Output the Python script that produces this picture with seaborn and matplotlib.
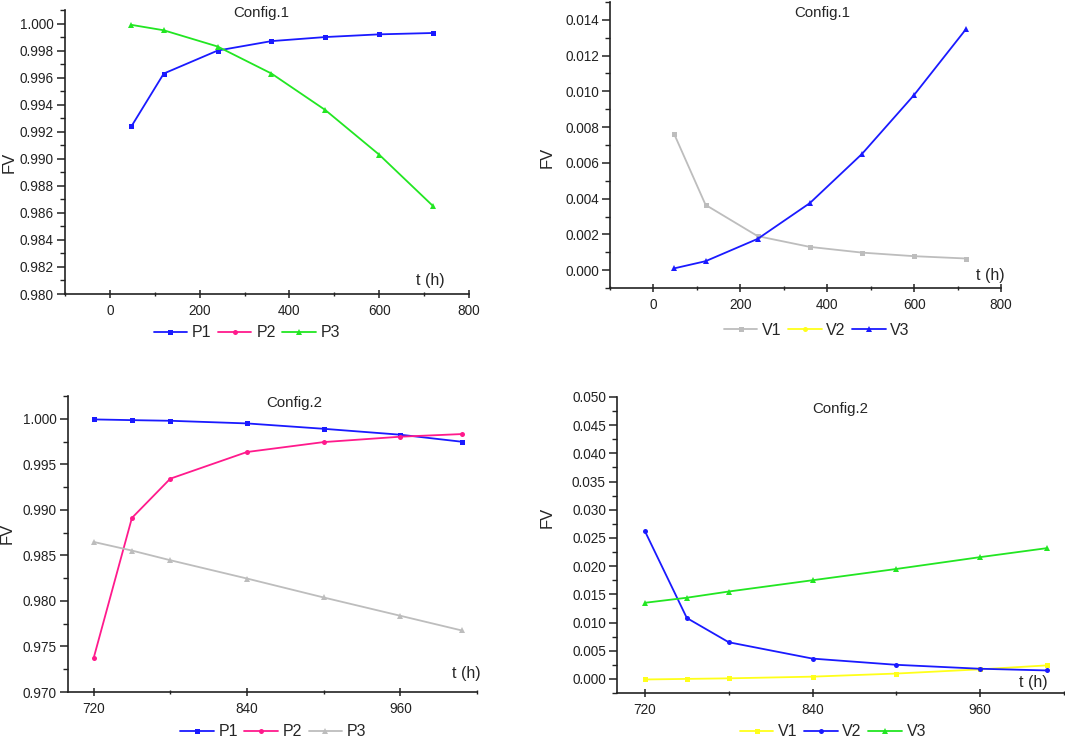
import matplotlib
matplotlib.use("Agg")
import matplotlib.pyplot as plt
import seaborn as sns
import numpy as np
import pandas as pd
from matplotlib.ticker import MultipleLocator, FormatStrFormatter
from matplotlib.lines import Line2D

# ---------------- data ----------------
t1 = [48, 120, 240, 360, 480, 600, 720]
c1_P1 = [0.9924, 0.9963, 0.9980, 0.9987, 0.9990, 0.9992, 0.9993]
c1_P3 = [0.9999, 0.9995, 0.9983, 0.9963, 0.9936, 0.9903, 0.9865]
c1_V1 = [0.0076, 0.00365, 0.0019, 0.0013, 0.00098, 0.00078, 0.00065]
c1_V3 = [0.0001, 0.0005, 0.00175, 0.00375, 0.0065, 0.0098, 0.0135]

t2 = [720, 750, 780, 840, 900, 960, 1008]
c2_P1 = [0.99993, 0.99985, 0.99978, 0.99949, 0.9989, 0.99825, 0.99748]
c2_P2 = [0.97369, 0.98911, 0.99342, 0.99635, 0.99744, 0.99803, 0.99832]
c2_P3 = [0.98648, 0.98553, 0.98447, 0.98246, 0.98038, 0.97837, 0.97676]
c2_V1 = [-0.0001, 0.0, 0.0001, 0.0004, 0.00095, 0.0017, 0.0024]
c2_V2 = [0.0262, 0.0108, 0.0065, 0.0036, 0.0025, 0.0018, 0.0015]
c2_V3 = [0.0135, 0.0144, 0.0155, 0.0175, 0.0195, 0.0216, 0.0232]

BLUE = "#1a1aff"
PINK = "#ff1a8c"
GREEN = "#22e622"
GRAY = "#bdbdbd"
YELLOW = "#ffff1a"

sns.set_style("ticks")
plt.rcParams['font.family'] = ['Liberation Sans', 'DejaVu Sans']

fig = plt.figure(figsize=(10.65, 7.4), dpi=100)

W, H = 1065, 740
def add_ax(l, r, t, b):
    return fig.add_axes([l / W, (H - b) / H, (r - l) / W, (b - t) / H])

ax1 = add_ax(65, 469, 10, 294)
ax2 = add_ax(610, 1001, 2, 288)
ax3 = add_ax(68, 477, 396, 692)
ax4 = add_ax(617, 1064, 397, 693)

MK = {"s": 3.6, "o": 3.6, "^": 4.2}

def draw(ax, x, y, color, marker, label):
    sns.lineplot(x=x, y=y, ax=ax, color=color, marker=marker, markersize=MK[marker],
                 markeredgewidth=0, linewidth=1.3, label=label, legend=False)

def style(ax, xlim, ylim, xmaj, xmin, ymaj, ymin, title, tpos, tlabpos, ylabpos,
          legpos, handles):
    ax.set_xlim(*xlim)
    ax.set_ylim(*ylim)
    ax.xaxis.set_major_locator(MultipleLocator(xmaj))
    ax.xaxis.set_minor_locator(MultipleLocator(xmin))
    ax.yaxis.set_major_locator(MultipleLocator(ymaj))
    ax.yaxis.set_minor_locator(MultipleLocator(ymin))
    ax.yaxis.set_major_formatter(FormatStrFormatter('%.3f'))
    for s in ["top", "right"]:
        ax.spines[s].set_visible(False)
    for s in ["left", "bottom"]:
        ax.spines[s].set_linewidth(1.2)
        ax.spines[s].set_color("#222222")
    ax.tick_params(axis="both", which="major", direction="inout", length=6, width=1.1,
                   labelsize=9.8, colors="#222222", pad=4)
    ax.tick_params(axis="both", which="minor", direction="inout", length=3.5, width=1.0,
                   colors="#222222")
    ax.tick_params(axis="y", which="both", direction="out")
    ax.tick_params(axis="y", which="major", pad=2)
    ax.set_xlabel("")
    ax.set_ylabel("FV", fontsize=12)
    ax.yaxis.set_label_coords(*ylabpos)
    ax.text(tpos[0], tpos[1], title, transform=ax.transAxes, ha="center", va="center",
            fontsize=10.8)
    ax.text(tlabpos[0], tlabpos[1], "t (h)", transform=ax.transAxes, ha="center",
            va="center", fontsize=11.5)
    ax.legend(handles=handles, loc="center", bbox_to_anchor=legpos, ncol=3,
              frameon=False, fontsize=11.5, handlelength=2.1, handletextpad=0.3,
              columnspacing=0.4, borderaxespad=0)

def h(color, marker, label):
    return Line2D([], [], color=color, marker=marker, markersize=MK[marker],
                  markeredgewidth=0, linewidth=1.3, label=label)

# Panel 1
draw(ax1, t1, c1_P1, BLUE, "s", "P1")
draw(ax1, t1, c1_P3, GREEN, "^", "P3")
style(ax1, (-100, 800), (0.980, 1.001), 200, 100, 0.002, 0.001, "Config.1",
      (0.487, 0.99), (0.905, 0.049), (-0.120, 0.465), (0.45, -0.137),
      [h(BLUE, "s", "P1"), h(PINK, "o", "P2"), h(GREEN, "^", "P3")])

# Panel 2
draw(ax2, t1, c1_V1, GRAY, "s", "V1")
draw(ax2, t1, c1_V3, BLUE, "^", "V3")
style(ax2, (-100, 800), (-0.001, 0.015), 200, 100, 0.002, 0.001, "Config.1",
      (0.544, 0.96), (0.972, 0.045), (-0.141, 0.458), (0.529, -0.147),
      [h(GRAY, "s", "V1"), h(YELLOW, "o", "V2"), h(BLUE, "^", "V3")])

# Panel 3
draw(ax3, t2, c2_P1, BLUE, "s", "P1")
draw(ax3, t2, c2_P2, PINK, "o", "P2")
draw(ax3, t2, c2_P3, GRAY, "^", "P3")
style(ax3, (700, 1020), (0.970, 1.0025), 120, 60, 0.005, 0.0025, "Config.2",
      (0.553, 0.976), (0.973, 0.063), (-0.130, 0.537), (0.502, -0.134),
      [h(BLUE, "s", "P1"), h(PINK, "o", "P2"), h(GRAY, "^", "P3")])

# Panel 4
draw(ax4, t2, c2_V1, YELLOW, "s", "V1")
draw(ax4, t2, c2_V2, BLUE, "o", "V2")
draw(ax4, t2, c2_V3, GREEN, "^", "V3")
style(ax4, (700, 1020), (-0.0025, 0.050), 120, 60, 0.005, 0.0025, "Config.2",
      (0.499, 0.958), (0.931, 0.037), (-0.139, 0.595), (0.483, -0.131),
      [h(YELLOW, "s", "V1"), h(BLUE, "o", "V2"), h(GREEN, "^", "V3")])

for ax in (ax1, ax2, ax3, ax4):
    for ln in ax.lines:
        ln.set_clip_on(False)

fig.savefig("out.png", dpi=100)
